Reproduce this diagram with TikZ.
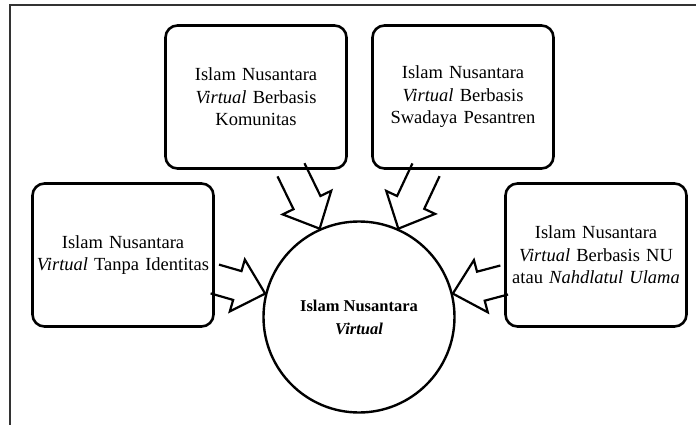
\documentclass[tikz,border=0pt]{standalone}
\usepackage{fontspec}
\setmainfont{Liberation Serif}
\usetikzlibrary{calc}
\tikzset{>=latex}
\tikzset{
	kotak/.style={draw, line width=2.6pt, rounded corners=12pt, minimum width=181pt, minimum height=143pt, inner sep=3pt, text width=174pt, align=center, font=\fontsize{18.5}{22.5}\selectfont},
	lingkaran/.style={draw, circle, line width=2.4pt, minimum size=191pt, inner sep=0pt, align=center, font=\fontsize{16.5}{23}\selectfont\bfseries},
	panah/.style={line width=2.2pt, line join=miter}
}
% block arrow: #1 start (at the box), #2 tip (at the circle)
\newcommand{\panahblok}[2]{
	\coordinate (p0) at (#1);
	\coordinate (p1) at (#2);
	\coordinate (pn) at ($(p1)!29pt!(p0)$);
	\draw[panah] ($(p0)!15pt!90:(p1)$) -- ($(pn)!15pt!-90:(p0)$) -- ($(pn)!27pt!-90:(p0)$) -- (p1)
		-- ($(pn)!27pt!90:(p0)$) -- ($(pn)!15pt!90:(p0)$) -- ($(p0)!15pt!-90:(p1)$);
}

\begin{document}
\begin{tikzpicture}[x=1pt,y=-1pt]
	\useasboundingbox (0,0) rectangle (696,425);
	\draw[gray!40!black, line width=1.2pt] (10,425) -- (10,5) -- (696,5);

	\node[kotak] (komunitas) at (256,97) {Islam Nusantara\\\textit{Virtual} Berbasis\\Komunitas};
	\node[kotak] (pesantren) at (463,97) {Islam Nusantara\\\textit{Virtual} Berbasis\\Swadaya Pesantren};
	\node[kotak] (tanpa) at (123,255) {Islam Nusantara\\\textit{Virtual} Tanpa Identitas};
	\node[kotak] (nu) at (596,255) {Islam Nusantara\\\textit{Virtual} Berbasis NU\\atau \textit{Nahdlatul Ulama}};

	\node[lingkaran] (pusat) at (359,317) {Islam Nusantara\\\textit{Virtual}};

	\panahblok{$(komunitas.south)+(35,0)$}{pusat.114}
	\panahblok{$(pesantren.south)+(-37,0)$}{pusat.66}
	\panahblok{$(tanpa.east)+(0,24)$}{pusat.166}
	\panahblok{$(nu.west)+(0,25)$}{pusat.14}
\end{tikzpicture}
\end{document}
